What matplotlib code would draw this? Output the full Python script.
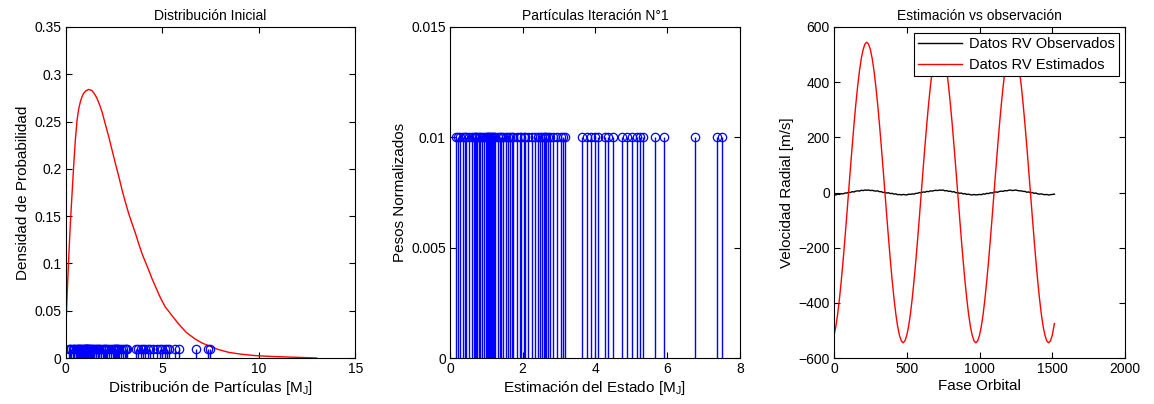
import numpy as np
import matplotlib
matplotlib.use("Agg")
import matplotlib.pyplot as plt

plt.rcParams['font.family'] = ['Liberation Sans', 'DejaVu Sans']
plt.rcParams['font.size'] = 10
plt.rcParams['mathtext.fontset'] = 'custom'
plt.rcParams['mathtext.rm'] = 'Liberation Sans'
plt.rcParams['mathtext.it'] = 'Liberation Sans'

# ---- Panel 1: initial distribution (pdf) ----
pdf_x = [0.0, 0.005, 0.02, 0.07, 0.15, 0.24, 0.33, 0.41, 0.50, 0.59, 0.67, 0.76, 0.84, 0.93,
         1.05, 1.19, 1.36, 1.50, 1.62, 1.75, 1.88, 2.05, 2.23, 2.40, 2.57, 2.75, 2.92, 3.09,
         3.26, 3.44, 3.61, 3.78, 3.95, 4.12, 4.30, 4.47, 4.64, 4.90, 5.16, 5.50, 5.85, 6.25,
         6.71, 7.05, 7.40, 7.90, 8.44, 9.10, 9.83, 10.6, 11.56, 12.3, 13.0]
pdf_y = [0.0, 0.020, 0.036, 0.065, 0.103, 0.142, 0.174, 0.202, 0.2305, 0.2517, 0.263, 0.271,
         0.276, 0.280, 0.2825, 0.284, 0.2828, 0.279, 0.2747, 0.268, 0.2605, 0.2475, 0.234,
         0.220, 0.206, 0.192, 0.1776, 0.165, 0.153, 0.142, 0.132, 0.121, 0.1106, 0.102,
         0.093, 0.084, 0.076, 0.064, 0.054, 0.045, 0.036, 0.027, 0.020, 0.016, 0.013, 0.009,
         0.006, 0.004, 0.0025, 0.0017, 0.001, 0.0005, 0.0]

# ---- particle positions (shared by panels 1 and 2) ----
particles = [0.17, 0.23, 0.27, 0.37, 0.41, 0.45, 0.52, 0.60, 0.65, 0.68, 0.71, 0.75, 0.79,
             0.83, 0.88, 0.93, 0.98, 1.01, 1.04, 1.06, 1.08, 1.10, 1.12, 1.15, 1.19, 1.21,
             1.25, 1.33, 1.38, 1.42, 1.47, 1.55, 1.59, 1.66, 1.70, 1.75, 1.84, 1.93, 1.96,
             2.04, 2.07, 2.16, 2.25, 2.34, 2.44, 2.49, 2.55, 2.59, 2.62, 2.65, 2.70, 2.75,
             2.85, 2.96, 3.05, 3.13, 3.17, 3.63, 3.77, 3.88, 4.00, 4.09, 4.28, 4.37, 4.51,
             4.74, 4.87, 5.01, 5.15, 5.24, 5.33, 5.66, 5.89, 6.76, 7.36, 7.50]
weight = 0.01

# ---- Panel 3: observed vs estimated RV ----
phase = [i * 12.5 for i in range(121)] + [1515]
rv_est = [
    -518, -486, -441, -385, -320, -247, -168, -85, 0, 85, 168, 247, 320, 385, 441, 486, 518, 538, 545, 538,
    518, 486, 441, 385, 320, 247, 168, 85, 0, -85, -168, -247, -320, -385, -441, -486, -518, -538, -545, -538,
    -518, -486, -441, -385, -320, -247, -168, -85, 0, 85, 168, 247, 320, 385, 441, 486, 518, 538, 545, 538,
    518, 486, 441, 385, 320, 247, 168, 85, 0, -85, -168, -247, -320, -385, -441, -486, -518, -538, -545, -538,
    -518, -486, -441, -385, -320, -247, -168, -85, 0, 85, 168, 247, 320, 385, 441, 486, 518, 538, 545, 538,
    518, 486, 441, 385, 320, 247, 168, 85, 0, -85, -168, -247, -320, -385, -441, -486, -518, -538, -545, -538,
    -518, -475]
rv_obs = [
    -8, -9, -6, -7, -4, -5, -2, -2, 1, 0, 3, 2, 5, 6, 5, 8, 7, 9, 8, 9,
    7, 8, 6, 5, 6, 3, 3, 0, 1, -2, -1, -4, -3, -6, -5, -8, -7, -9, -7, -8,
    -9, -6, -7, -5, -6, -3, -3, 0, -1, 2, 1, 4, 3, 6, 5, 7, 8, 7, 9, 8,
    9, 6, 7, 4, 5, 2, 3, -1, 0, -3, -2, -5, -4, -7, -6, -8, -9, -7, -9, -8,
    -7, -8, -5, -6, -3, -4, -1, -2, 1, 2, 1, 4, 5, 4, 7, 6, 8, 9, 7, 8,
    9, 7, 6, 6, 4, 4, 1, 2, -1, 0, -3, -2, -5, -6, -5, -7, -8, -7, -9, -8,
    -7, -6]

W, H = 1154, 404
fig = plt.figure(figsize=(W / 100, H / 100), dpi=100)

def make_ax(left_px, width_px):
    return fig.add_axes([left_px / W, (H - 358) / H, width_px / W, 331 / H])

ax1 = make_ax(65.7, 289.5)
ax2 = make_ax(450, 290)
ax3 = make_ax(834, 291)

for ax in (ax1, ax2, ax3):
    ax.tick_params(direction='in', top=True, right=True, length=4, width=0.8, labelsize=10, pad=3)
    for s in ax.spines.values():
        s.set_linewidth(0.8)

def stems(ax, xs):
    ml, sl, bl = ax.stem(xs, [weight] * len(xs), linefmt='b-', markerfmt='bo', basefmt=' ')
    ml.set_markerfacecolor('none')
    ml.set_markeredgecolor('blue')
    ml.set_markersize(6)
    ml.set_markeredgewidth(0.9)
    sl.set_linewidth(1.0)
    sl.set_color('blue')

# Panel 1
ax1.plot(pdf_x, pdf_y, color='red', lw=1.0)
stems(ax1, particles)
ax1.set_xlim(0, 15)
ax1.set_ylim(0, 0.35)
ax1.set_xticks([0, 5, 10, 15])
ax1.set_yticks([0, 0.05, 0.1, 0.15, 0.2, 0.25, 0.3, 0.35])
ax1.set_yticklabels(['0', '0.05', '0.1', '0.15', '0.2', '0.25', '0.3', '0.35'])
ax1.set_title('Distribución Inicial', fontsize=10, pad=5)
ax1.set_xlabel(r'Distribución de Partículas [M$_\mathregular{J}$]', fontsize=11, labelpad=2)
ax1.set_ylabel('Densidad de Probabilidad', fontsize=11, labelpad=3)

# Panel 2
stems(ax2, particles)
ax2.set_xlim(0, 8)
ax2.set_ylim(0, 0.015)
ax2.set_xticks([0, 2, 4, 6, 8])
ax2.set_yticks([0, 0.005, 0.01, 0.015])
ax2.set_yticklabels(['0', '0.005', '0.01', '0.015'])
ax2.set_title('Partículas Iteración N°1', fontsize=10, pad=5)
ax2.set_xlabel(r'Estimación del Estado [M$_\mathregular{J}$]', fontsize=11, labelpad=2)
ax2.set_ylabel('Pesos Normalizados', fontsize=11, labelpad=3)

# Panel 3
ax3.plot(phase, rv_obs, color='black', lw=1.0, label='Datos RV Observados')
ax3.plot(phase, rv_est, color='red', lw=1.0, label='Datos RV Estimados')
ax3.set_xlim(0, 2000)
ax3.set_ylim(-600, 600)
ax3.set_xticks([0, 500, 1000, 1500, 2000])
ax3.set_yticks([-600, -400, -200, 0, 200, 400, 600])
ax3.set_title('Estimación vs observación', fontsize=10, pad=5)
ax3.set_xlabel('Fase Orbital', fontsize=11, labelpad=2)
ax3.set_ylabel('Velocidad Radial [m/s]', fontsize=11, labelpad=3)
leg = ax3.legend(loc='upper right', fontsize=10.5, frameon=True, fancybox=False,
                 edgecolor='black', framealpha=1, borderpad=0.3, handlelength=3.0,
                 handletextpad=0.5, labelspacing=0.45, borderaxespad=0.4)
leg.get_frame().set_linewidth(0.8)

fig.savefig('out.png', dpi=100)
